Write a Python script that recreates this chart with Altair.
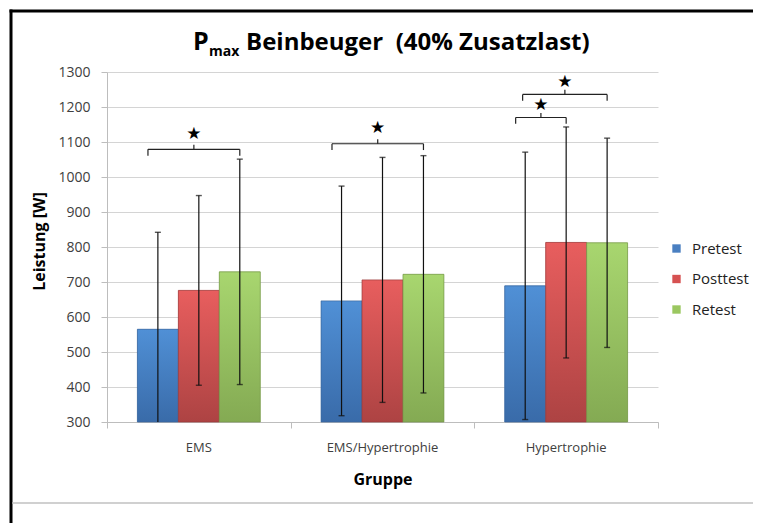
import altair as alt
import pandas as pd

# ---------------- data ----------------
groups = ["EMS", "EMS/Hypertrophie", "Hypertrophie"]
series = ["Pretest", "Posttest", "Retest"]
pretest_mean = [565, 646, 689]
posttest_mean = [676, 706, 813]
retest_mean = [729, 722, 812]
pretest_sd = [277, 328, 382]
posttest_sd = [271, 350, 330]
retest_sd = [322, 339, 299]

# significance brackets: group index, from-series index, to-series index, bracket level, star level
br_group = [0, 1, 2, 2]
br_from = [0, 0, 0, 0]
br_to = [2, 2, 1, 2]
br_level = [1079, 1095, 1170, 1236]
br_star = [1123, 1140, 1206, 1272]
br_lshift = [0.054, 0.052, 0.052, 0.014]

y_ticks = list(range(300, 1400, 100))

# ---------------- style ----------------
FONT = "Open Sans"
W, H = 551, 350
BW = 0.223  # bar width in group units
flat_colors = ["#4a7fc1", "#d65151", "#9bc760"]
grad_top = ["#5090d6", "#e85e5e", "#a8d66f"]
grad_bot = ["#396ba9", "#ad4343", "#84aa53"]
strokes = ["#3a659c", "#9c3b3b", "#76964a"]

means = [pretest_mean, posttest_mean, retest_mean]
sds = [pretest_sd, posttest_sd, retest_sd]

rows = []
for gi, g in enumerate(groups):
    for si, s in enumerate(series):
        xc = gi + 0.5 + (si - 1) * BW
        m = means[si][gi]
        sd = sds[si][gi]
        rows.append(dict(group=g, series=s, xc=xc, x0=xc - BW / 2, x1=xc + BW / 2,
                         mean=m, lo=m - sd, hi=m + sd))
df = pd.DataFrame(rows)

brows = []
for g, f, t, lv, st, ls in zip(br_group, br_from, br_to, br_level, br_star, br_lshift):
    xl = g + 0.5 + (f - 1) * BW - ls
    xr = g + 0.5 + (t - 1) * BW
    brows.append(dict(xl=xl, xr=xr, xm=(xl + xr) / 2, level=lv, low=lv - 18,
                      top=lv + 13, star=st))
bdf = pd.DataFrame(brows)

gdf = pd.DataFrame(dict(group=groups, xc=[i + 0.5 for i in range(len(groups))]))

xs = alt.Scale(domain=[0, 3], nice=False, zero=False)
ys = alt.Scale(domain=[300, 1300], nice=False, zero=False)
xaxis = alt.Axis(values=[0, 1, 2, 3], labels=False, grid=False, tickSize=6,
                 domainColor="#bdbdbd", tickColor="#bdbdbd", title="Gruppe",
                 titleFont=FONT, titleFontSize=16, titleFontWeight="bold",
                 titleColor="#000000", titleY=57, titleBaseline="middle")
yaxis = alt.Axis(values=y_ticks, format="d", grid=True, gridColor="#d4d4d4", tickSize=6,
                 domainColor="#bdbdbd", tickColor="#bdbdbd", labelPadding=11,
                 labelFont=FONT, labelFontSize=14, labelColor="#404040",
                 title="Leistung [W]", titleFont=FONT, titleFontSize=16,
                 titleFontWeight="bold", titleColor="#000000", titleX=-68,
                 titleY=169, titleBaseline="middle", titleAlign="center")


def X(field):
    return alt.X(field, type="quantitative", scale=xs, axis=xaxis)


def Y(field):
    return alt.Y(field, type="quantitative", scale=ys, axis=yaxis)


base = alt.Chart(df)

bars = base.mark_bar().encode(
    x=X("x0"), x2="x1", y=Y("mean"), y2=alt.datum(300),
    color=alt.Color("series:N", scale=alt.Scale(domain=series, range=flat_colors),
                    legend=alt.Legend(title=None, orient="none", legendX=562, legendY=169,
                                      symbolType="square", symbolSize=70,
                                      symbolStrokeWidth=0, labelFont=FONT,
                                      labelFontSize=15, labelColor="#222222",
                                      rowPadding=14.5, labelOffset=8, padding=0)),
)

grad_layers = []
for si, s in enumerate(series):
    grad_layers.append(
        base.transform_filter(alt.datum.series == s).mark_bar(
            color=alt.Gradient(gradient="linear", x1=0, x2=0, y1=0, y2=1,
                               stops=[alt.GradientStop(offset=0, color=grad_top[si]),
                                      alt.GradientStop(offset=1, color=grad_bot[si])]),
            stroke=strokes[si], strokeWidth=0.7,
        ).encode(x=X("x0"), x2="x1", y=Y("mean"), y2=alt.datum(300))
    )

err = base.mark_rule(color="#111111", strokeWidth=1.2, clip=True).encode(
    x=X("xc"), y=Y("lo"), y2="hi")
cap_hi = base.mark_tick(orient="horizontal", color="#111111", size=6, thickness=1.4,
                        clip=True).encode(x=X("xc"), y=Y("hi"))
cap_lo = base.mark_tick(orient="horizontal", color="#111111", size=6, thickness=1.4,
                        clip=True).encode(x=X("xc"), y=Y("lo"))

bch = alt.Chart(bdf)
bstyle = dict(color="#222222", strokeWidth=1.2)
br_h = bch.mark_rule(**bstyle).encode(x=X("xl"), x2="xr", y=Y("level"))
br_l = bch.mark_rule(**bstyle).encode(x=X("xl"), y=Y("low"), y2="level")
br_r = bch.mark_rule(**bstyle).encode(x=X("xr"), y=Y("low"), y2="level")
br_m = bch.mark_rule(**bstyle).encode(x=X("xm"), y=Y("level"), y2="top")
stars = bch.mark_text(text="★", font="DejaVu Sans", fontSize=17, color="#000000",
                      baseline="middle").encode(x=X("xm"), y=Y("star"))

glabels = alt.Chart(gdf).mark_text(font=FONT, fontSize=13, color="#404040",
                                   baseline="middle").encode(
    x=X("xc"), y=alt.value(H + 26), text="group:N")

one = alt.Data(values=[{"k": 1}])
border_left = alt.Chart(one).mark_rule(color="#000000", strokeWidth=3).encode(
    x=alt.value(-96), y=alt.value(-62.5), y2=alt.value(460))
border_top = alt.Chart(one).mark_rule(color="#000000", strokeWidth=3).encode(
    x=alt.value(-97.5), x2=alt.value(650), y=alt.value(-61))
border_bot = alt.Chart(one).mark_rule(color="#d0d0d0", strokeWidth=2).encode(
    x=alt.value(-94.5), x2=alt.value(650), y=alt.value(431))

t_p = alt.Chart(one).mark_text(text="P", font=FONT, fontSize=25, fontWeight="bold",
                               color="#000000", align="left", baseline="alphabetic").encode(
    x=alt.value(86), y=alt.value(-22))
t_max = alt.Chart(one).mark_text(text="max", font=FONT, fontSize=14, fontWeight="bold",
                                 color="#000000", align="left", baseline="alphabetic").encode(
    x=alt.value(102), y=alt.value(-16))
t_rest = alt.Chart(one).mark_text(text="Beinbeuger \u00a0(40% Zusatzlast)", font=FONT,
                                  fontSize=24, fontWeight="bold", color="#000000",
                                  align="left", baseline="alphabetic").encode(
    x=alt.value(139), y=alt.value(-22))

chart = alt.layer(
    bars, *grad_layers, err, cap_hi, cap_lo, br_h, br_l, br_r, br_m, stars, glabels,
    border_left, border_top, border_bot, t_p, t_max, t_rest,
).properties(
    width=W, height=H,
    autosize=alt.AutoSizeParams(type="none"),
    padding={"left": 99, "top": 64, "right": 95, "bottom": 101},
    background="white",
).configure_view(stroke=None)

chart.save("out.html", embed_options={"renderer": "svg", "actions": False})
